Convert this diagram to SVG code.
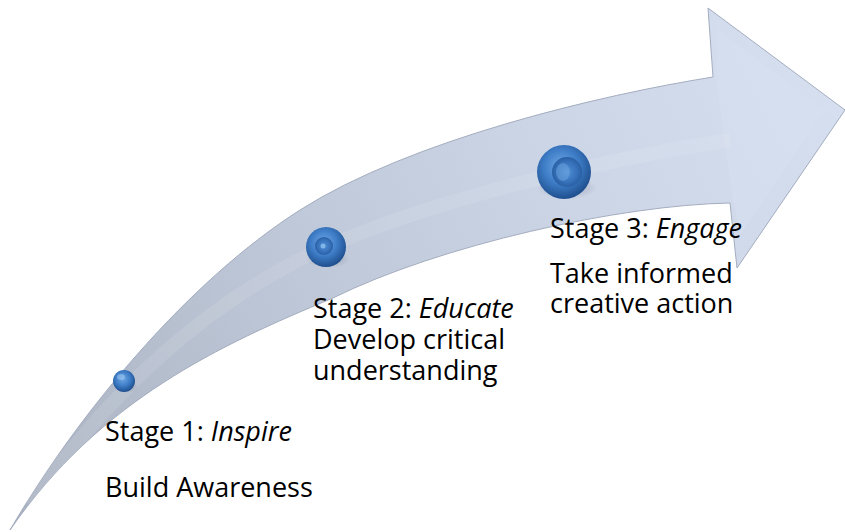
<svg xmlns="http://www.w3.org/2000/svg" width="845" height="532" viewBox="0 0 845 532">
<defs>
<linearGradient id="shaft" x1="0" y1="530" x2="845" y2="110" gradientUnits="userSpaceOnUse">
<stop offset="0" stop-color="#a9b1c0"/>
<stop offset="0.35" stop-color="#bcc5d5"/>
<stop offset="0.7" stop-color="#cbd5e6"/>
<stop offset="1" stop-color="#d6dff0"/>
</linearGradient>
<radialGradient id="ball" cx="0.45" cy="0.4" r="0.6">
<stop offset="0" stop-color="#6fa8e6"/>
<stop offset="0.55" stop-color="#3d7cc6"/>
<stop offset="1" stop-color="#1f4f8e"/>
</radialGradient>
<radialGradient id="dimple" cx="0.5" cy="0.5" r="0.5">
<stop offset="0" stop-color="#4f8fd4"/>
<stop offset="0.7" stop-color="#3670b8"/>
<stop offset="1" stop-color="#2a5fa3"/>
</radialGradient>
<radialGradient id="shadow" cx="0.5" cy="0.5" r="0.5">
<stop offset="0" stop-color="#4a5060" stop-opacity="0.35"/>
<stop offset="1" stop-color="#4a5060" stop-opacity="0"/>
</radialGradient>
</defs>
<style>
.t{font-family:"Open Sans","Liberation Sans",sans-serif;font-size:27px;fill:#000}
.i{font-style:italic}
</style>
<g id="connectors">
<path id="arrow" d="M10,530 C80,410 190,280 300,210 C410,140 600,95 713,77 L708,8 L845,110 L737,268 L730,203 C620,205 440,245 333,298 C220,345 100,400 10,530 Z" fill="url(#shaft)" stroke="#a3adbf" stroke-width="1"/>
<path d="M718,30 L825,110 L740,235 L733,200 L716,80 Z" fill="#dbe3f2" opacity="0.35"/>
<path d="M30,505 C110,390 210,300 320,250 C430,200 600,160 730,140" fill="none" stroke="#ffffff" stroke-opacity="0.1" stroke-width="14"/>
</g>
<g id="node1">
<ellipse cx="126" cy="387" rx="12" ry="6" fill="url(#shadow)"/>
<circle cx="124" cy="381" r="11" fill="url(#ball)"/>
<ellipse cx="121" cy="377" rx="4" ry="3" fill="#a9d0f5" opacity="0.5"/>
</g>
<g id="node2">
<ellipse cx="328" cy="259" rx="22" ry="9" fill="url(#shadow)"/>
<circle cx="326" cy="247" r="20" fill="url(#ball)"/>
<circle cx="324" cy="246" r="9" fill="url(#dimple)"/>
<circle cx="323" cy="246" r="2.5" fill="#8fc0ee" opacity="0.8"/>
</g>
<g id="node3">
<ellipse cx="567" cy="188" rx="30" ry="11" fill="url(#shadow)"/>
<circle cx="564" cy="172" r="27" fill="url(#ball)"/>
<circle cx="567" cy="172" r="15" fill="url(#dimple)"/>
<ellipse cx="563" cy="172" rx="7" ry="9" fill="#78aee6" opacity="0.45"/>
</g>
<g id="label1">
<text class="t" x="105" y="441">Stage 1: <tspan class="i">Inspire</tspan></text>
<text class="t" x="105" y="497">Build Awareness</text>
</g>
<g id="label2">
<text class="t" x="313" y="318">Stage 2: <tspan class="i">Educate</tspan></text>
<text class="t" x="313" y="349">Develop critical</text>
<text class="t" x="313" y="380">understanding</text>
</g>
<g id="label3">
<text class="t" x="550" y="238">Stage 3: <tspan class="i">Engage</tspan></text>
<text class="t" x="550" y="283">Take informed</text>
<text class="t" x="550" y="313">creative action</text>
</g>
</svg>
